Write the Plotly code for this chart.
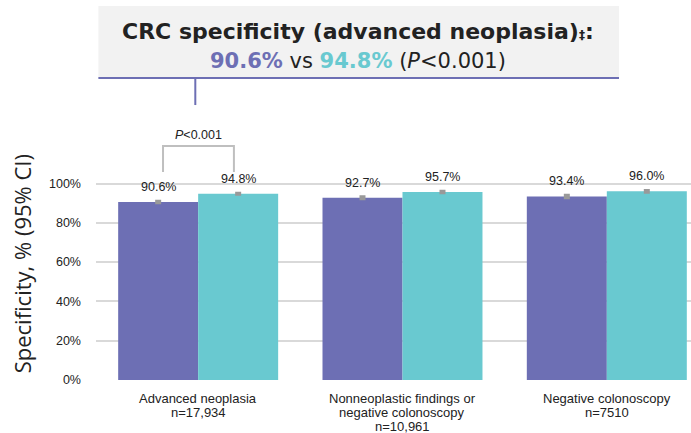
import plotly.graph_objects as go

categories = ["Advanced neoplasia<br>n=17,934",
              "Nonneoplastic findings or<br>negative colonoscopy<br>n=10,961",
              "Negative colonoscopy<br>n=7510"]
series_names = ["Comparator", "Test"]
values_a = [90.6, 92.7, 93.4]
values_b = [94.8, 95.7, 96.0]
ci_a = [0.4, 0.5, 0.6]
ci_b = [0.3, 0.4, 0.4]
ytick_vals = [0, 20, 40, 60, 80, 100]
ytick_text = ["0%", "20%", "40%", "60%", "80%", "100%"]

PURPLE = "#6D6FB4"
TEAL = "#69C9D0"
GRAY_ERR = "#999999"
TXT = "#222222"
LBL_FONT = dict(family="Liberation Sans, Arial", size=12.5, color=TXT)

xs = list(range(len(categories)))
bargap = 0.217
bw = (1 - bargap) / 2

fig = go.Figure()
for name, vals, ci, col in [(series_names[0], values_a, ci_a, PURPLE),
                            (series_names[1], values_b, ci_b, TEAL)]:
    fig.add_trace(go.Bar(
        x=xs, y=vals, name=name, marker=dict(color=col, line=dict(width=0)),
        error_y=dict(type="data", array=ci, visible=True, color=GRAY_ERR,
                     thickness=3, width=3),
        hoverinfo="y",
    ))

annotations = []
for i in xs:
    for vals, off in [(values_a, -bw / 2), (values_b, bw / 2)]:
        annotations.append(dict(x=i + off, y=vals[i], xref="x", yref="y",
                                text=f"{vals[i]:.1f}%", showarrow=False,
                                xanchor="center", yanchor="middle",
                                yshift=15, font=LBL_FONT))

# category labels (tighter line spacing than plotly tick labels)
for i, cat in zip(xs, categories):
    for j, line in enumerate(cat.split("<br>")):
        annotations.append(dict(x=i, y=0, xref="x", yref="y", text=line, showarrow=False,
                                xanchor="center", yanchor="middle", yshift=-(18.5 + 14 * j),
                                font=dict(family="Liberation Sans, Arial", size=13, color=TXT)))

# p-value bracket label
annotations.append(dict(x=0, y=124.7, xref="x", yref="y", text="<i>P</i>&lt;0.001",
                        showarrow=False, xanchor="center", yanchor="middle", font=LBL_FONT))

# y-axis title
annotations.append(dict(x=-0.124, y=0.414, xref="paper", yref="paper",
                        xanchor="center", yanchor="middle",
                        text="Specificity, % (95% CI)", textangle=-90, showarrow=False,
                        font=dict(family="Open Sans", size=22, color=TXT)))

# header box text
annotations.append(dict(x=0.441, y=1.245, xref="paper", yref="paper",
                        xanchor="center", yanchor="middle",
                        text="<b>CRC specificity (advanced neoplasia)<span style='font-size:12px'>‡</span>:</b>",
                        showarrow=False, font=dict(family="DejaVu Sans", size=22, color=TXT)))
annotations.append(dict(x=0.441, y=1.14, xref="paper", yref="paper",
                        xanchor="center", yanchor="middle",
                        text=f"<b><span style='color:{PURPLE}'>90.6%</span></b> vs "
                             f"<b><span style='color:{TEAL}'>94.8%</span></b> (<i>P</i>&lt;0.001)",
                        showarrow=False, font=dict(family="DejaVu Sans", size=21, color=TXT)))

shapes = [
    dict(type="rect", xref="paper", yref="paper", x0=0.004, x1=0.879, y0=1.079, y1=1.336,
         fillcolor="#F2F2F2", line=dict(width=0), layer="below"),
    dict(type="line", xref="paper", yref="paper", x0=0.004, x1=0.879, y0=1.079, y1=1.079,
         line=dict(color=PURPLE, width=2)),
    dict(type="line", xref="paper", yref="paper", x0=0.1669, x1=0.1669, y0=1.079, y1=0.982,
         line=dict(color=PURPLE, width=2)),
    dict(type="path", xref="x", yref="y",
         path="M -0.172,105.9 L -0.172,119.1 L 0.175,119.1 L 0.175,105.9",
         line=dict(color="#BFBFBF", width=2)),
]

fig.update_layout(
    width=691, height=433,
    margin=dict(l=96, r=0, t=100, b=53, autoexpand=False),
    paper_bgcolor="white", plot_bgcolor="white",
    barmode="group", bargap=bargap, bargroupgap=0,
    showlegend=False,
    annotations=annotations, shapes=shapes,
    xaxis=dict(range=[-0.5, 2.412], tickmode="array", tickvals=xs, ticktext=categories,
               showticklabels=False,
               showgrid=False, zeroline=False, showline=False, ticks="", automargin=False),
    yaxis=dict(range=[0, 142.5], tickmode="array", tickvals=ytick_vals, ticktext=ytick_text,
               showgrid=True, gridcolor="#D9D9D9", gridwidth=1.5, zeroline=False,
               showline=False, ticks="", ticklabelstandoff=14, automargin=False,
               tickfont=LBL_FONT),
)

fig.write_html("out.html", config={"displayModeBar": False},
               post_script="document.body.style.margin='0';document.body.style.padding='0';")
